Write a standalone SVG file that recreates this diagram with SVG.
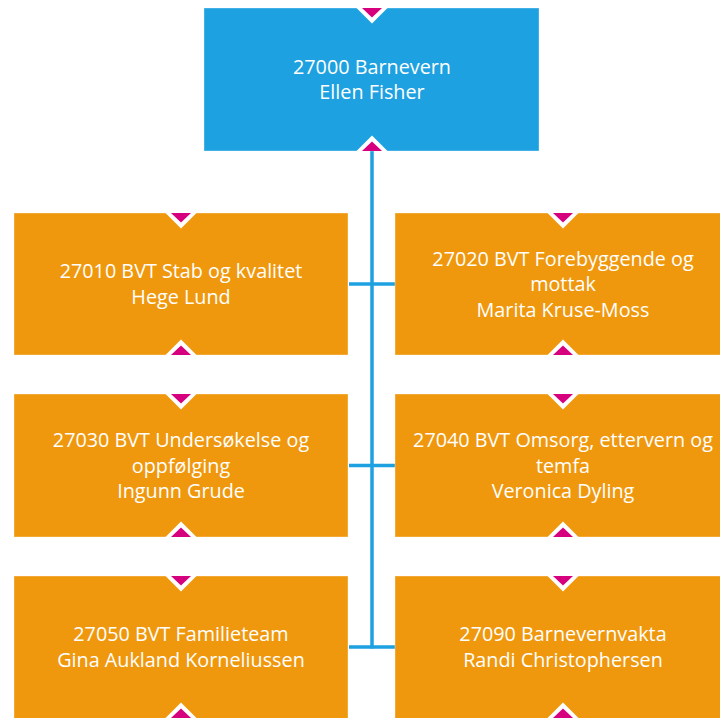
<svg xmlns="http://www.w3.org/2000/svg" width="720" height="718" viewBox="0 0 720 718">
<style>
.box{stroke:#ffffff;stroke-opacity:0.35;stroke-width:1}
.blue{fill:#1ea1e1}
.orange{fill:#f0980d}
.mw{fill:#ffffff}
.mm{fill:#d6007e}
.t{font-family:"Open Sans","Noto Sans",sans-serif;font-size:19.8px;fill:#ffffff;text-anchor:middle}
.conn{stroke:#1ea1e1;stroke-width:3.5;fill:none}
</style>
<rect width="720" height="718" fill="#ffffff"/>
<g id="connectors">
<line class="conn" x1="372" y1="151" x2="372" y2="648.5"/>
<line class="conn" x1="349" y1="284" x2="395" y2="284"/>
<line class="conn" x1="349" y1="465.5" x2="395" y2="465.5"/>
<line class="conn" x1="349" y1="647" x2="395" y2="647"/>
</g>
<g id="n27000">
<rect class="box blue" x="204" y="8" width="335" height="143"/>
<polygon class="mw" points="356.5,8 387.5,8 372,23.5"/>
<polygon class="mm" points="362,8 382,8 372,17.5"/>
<polygon class="mw" points="356.5,151 387.5,151 372,135.5"/>
<polygon class="mm" points="362,151 382,151 372,141.5"/>
<text class="t" x="372" y="74">27000 Barnevern</text>
<text class="t" x="372" y="99">Ellen Fisher</text>
</g>
<g id="n27010">
<rect class="box orange" x="14" y="213" width="334" height="142"/>
<polygon class="mw" points="165.5,213 196.5,213 181,228.5"/>
<polygon class="mm" points="171,213 191,213 181,222.5"/>
<polygon class="mw" points="165.5,355 196.5,355 181,339.5"/>
<polygon class="mm" points="171,355 191,355 181,345.5"/>
<text class="t" x="181" y="278">27010 BVT Stab og kvalitet</text>
<text class="t" x="181" y="303.5">Hege Lund</text>
</g>
<g id="n27020">
<rect class="box orange" x="395" y="213" width="335" height="142"/>
<polygon class="mw" points="547.5,213 578.5,213 563,228.5"/>
<polygon class="mm" points="553,213 573,213 563,222.5"/>
<polygon class="mw" points="547.5,355 578.5,355 563,339.5"/>
<polygon class="mm" points="553,355 573,355 563,345.5"/>
<text class="t" x="563" y="265.5">27020 BVT Forebyggende og</text>
<text class="t" x="563" y="291">mottak</text>
<text class="t" x="563" y="316.5">Marita Kruse-Moss</text>
</g>
<g id="n27030">
<rect class="box orange" x="14" y="394" width="334" height="143"/>
<polygon class="mw" points="165.5,394 196.5,394 181,409.5"/>
<polygon class="mm" points="171,394 191,394 181,403.5"/>
<polygon class="mw" points="165.5,537 196.5,537 181,521.5"/>
<polygon class="mm" points="171,537 191,537 181,527.5"/>
<text class="t" x="181" y="447">27030 BVT Undersøkelse og</text>
<text class="t" x="181" y="472.5">oppfølging</text>
<text class="t" x="181" y="498">Ingunn Grude</text>
</g>
<g id="n27040">
<rect class="box orange" x="395" y="394" width="335" height="143"/>
<polygon class="mw" points="547.5,394 578.5,394 563,409.5"/>
<polygon class="mm" points="553,394 573,394 563,403.5"/>
<polygon class="mw" points="547.5,537 578.5,537 563,521.5"/>
<polygon class="mm" points="553,537 573,537 563,527.5"/>
<text class="t" x="563" y="447">27040 BVT Omsorg, ettervern og</text>
<text class="t" x="563" y="472.5">temfa</text>
<text class="t" x="563" y="498">Veronica Dyling</text>
</g>
<g id="n27050">
<rect class="box orange" x="14" y="576" width="334" height="143"/>
<polygon class="mw" points="165.5,576 196.5,576 181,591.5"/>
<polygon class="mm" points="171,576 191,576 181,585.5"/>
<polygon class="mw" points="165.5,718 196.5,718 181,702.5"/>
<polygon class="mm" points="171,718 191,718 181,708.5"/>
<text class="t" x="181" y="641">27050 BVT Familieteam</text>
<text class="t" x="181" y="666.5">Gina Aukland Korneliussen</text>
</g>
<g id="n27090">
<rect class="box orange" x="395" y="576" width="335" height="143"/>
<polygon class="mw" points="547.5,576 578.5,576 563,591.5"/>
<polygon class="mm" points="553,576 573,576 563,585.5"/>
<polygon class="mw" points="547.5,718 578.5,718 563,702.5"/>
<polygon class="mm" points="553,718 573,718 563,708.5"/>
<text class="t" x="563" y="641">27090 Barnevernvakta</text>
<text class="t" x="563" y="666.5">Randi Christophersen</text>
</g>
</svg>
